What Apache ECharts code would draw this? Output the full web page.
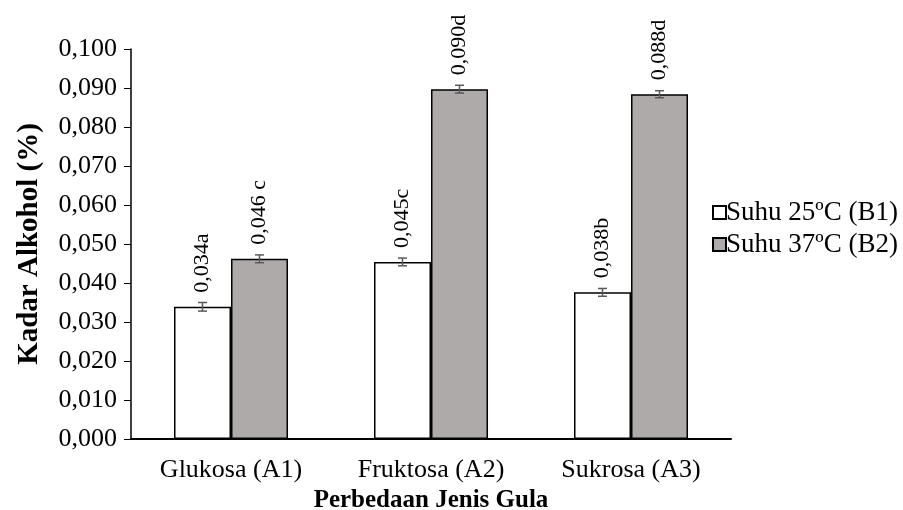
<!DOCTYPE html>
<html>
<head>
<meta charset="utf-8">
<script src="https://cdn.jsdelivr.net/npm/echarts@6/dist/echarts.min.js"></script>
<style>
  html, body { margin: 0; padding: 0; background: #fff; }
  #chart { width: 903px; height: 510px; }
</style>
</head>
<body>
<div id="chart"></div>
<script>
// data
const categories = ['Glukosa (A1)', 'Fruktosa (A2)', 'Sukrosa (A3)']
const seriesNames = ['Suhu 25ºC (B1)', 'Suhu 37ºC (B2)']
const b1Values = [0.0339, 0.0454, 0.0376]
const b2Values = [0.0462, 0.0897, 0.0884]
const b1Errors = [0.0011, 0.0010, 0.0010]
const b2Errors = [0.0010, 0.0010, 0.0009]
const b1Labels = ['0,034a', '0,045c', '0,038b']
const b2Labels = ['0,046 c', '0,090d', '0,088d']

const fontFamily = '"Liberation Serif", "Times New Roman", serif'
const barWidth = 57

const chart = echarts.init(document.getElementById('chart'))

function barLabel(labels) {
  return {
    show: true,
    position: 'top',
    distance: 14,
    rotate: 90,
    align: 'left',
    verticalAlign: 'middle',
    color: '#000',
    fontFamily: fontFamily,
    fontSize: 22,
    formatter: p => labels[p.dataIndex]
  }
}

function errorSeries(values, errors, shift) {
  return {
    type: 'custom',
    z: 10,
    silent: true,
    data: values.map((v, i) => [i, v, errors[i]]),
    renderItem(params, api) {
      const idx = api.value(0)
      const hi = api.coord([idx, api.value(1) + api.value(2)])
      const lo = api.coord([idx, api.value(1) - api.value(2)])
      const x = hi[0] + shift * barWidth / 2
      const cap = 4.5
      const style = { stroke: '#595959', lineWidth: 1.5 }
      return {
        type: 'group',
        children: [
          { type: 'line', shape: { x1: x, y1: hi[1], x2: x, y2: lo[1] }, style },
          { type: 'line', shape: { x1: x - cap, y1: hi[1], x2: x + cap, y2: hi[1] }, style },
          { type: 'line', shape: { x1: x - cap, y1: lo[1], x2: x + cap, y2: lo[1] }, style }
        ]
      }
    }
  }
}

const option = {
  animation: false,
  textStyle: { fontFamily: fontFamily },
  grid: { left: 131, right: 172, top: 49, bottom: 71, outerBoundsMode: 'none' },
  legend: {
    orient: 'vertical',
    left: 707,
    top: 194,
    itemGap: 5,
    itemWidth: 13,
    itemHeight: 13,
    icon: 'rect',
    data: seriesNames,
    textStyle: { fontFamily: fontFamily, fontSize: 27, color: '#000', padding: [0, 0, 0, -5] }
  },
  xAxis: {
    type: 'category',
    data: categories,
    name: 'Perbedaan Jenis Gula',
    nameLocation: 'middle',
    nameGap: 44,
    nameTextStyle: { fontFamily: fontFamily, fontSize: 25, fontWeight: 'bold', color: '#000' },
    axisLine: { lineStyle: { color: '#000', width: 2 } },
    axisTick: { show: false },
    axisLabel: { fontFamily: fontFamily, fontSize: 26, color: '#000', margin: 18 }
  },
  yAxis: {
    type: 'value',
    min: 0,
    max: 0.1,
    interval: 0.01,
    name: 'Kadar Alkohol (%)',
    nameLocation: 'middle',
    nameGap: 87,
    nameTextStyle: { fontFamily: fontFamily, fontSize: 29, fontWeight: 'bold', color: '#000' },
    axisLine: { show: true, lineStyle: { color: '#000', width: 1.5 } },
    axisTick: { show: true, length: 7, lineStyle: { color: '#000' } },
    splitLine: { show: false },
    axisLabel: {
      fontFamily: fontFamily,
      fontSize: 26,
      color: '#000',
      margin: 14,
      formatter: v => v.toFixed(3).replace('.', ',')
    }
  },
  series: [
    {
      name: seriesNames[0],
      type: 'bar',
      barWidth: barWidth,
      barGap: '0%',
      data: b1Values,
      itemStyle: { color: '#ffffff', borderColor: '#000', borderWidth: 1.5 },
      label: barLabel(b1Labels)
    },
    {
      name: seriesNames[1],
      type: 'bar',
      barWidth: barWidth,
      barGap: '0%',
      data: b2Values,
      itemStyle: { color: '#aeaaaa', borderColor: '#000', borderWidth: 1.5 },
      label: barLabel(b2Labels)
    },
    errorSeries(b1Values, b1Errors, -1),
    errorSeries(b2Values, b2Errors, 1)
  ]
}

chart.setOption(option)
</script>
</body>
</html>
